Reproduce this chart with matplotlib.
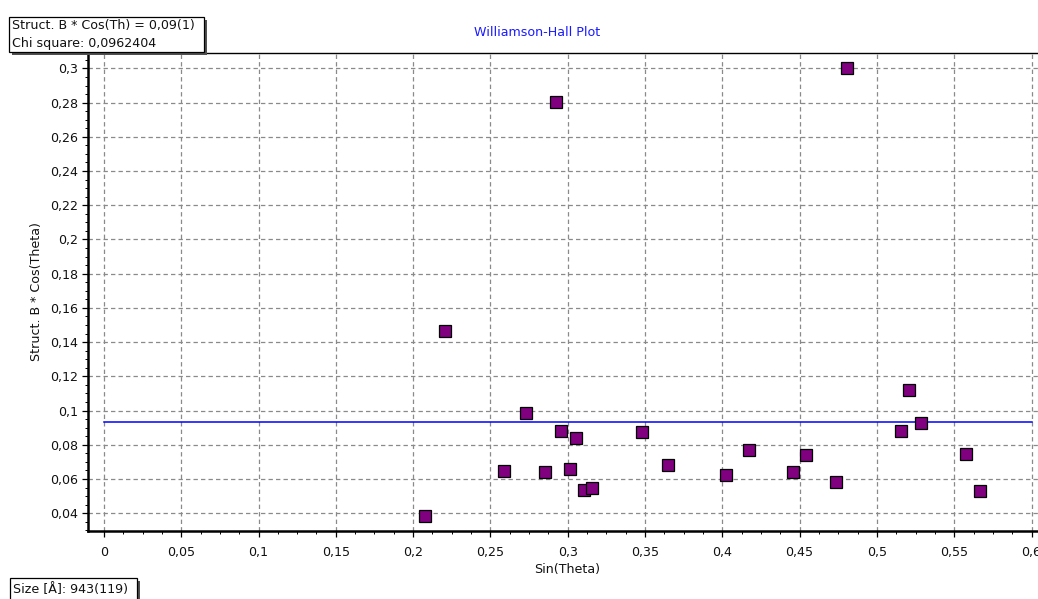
import matplotlib
matplotlib.use("Agg")
import matplotlib.pyplot as plt
from matplotlib.ticker import MultipleLocator, FuncFormatter
from matplotlib.patches import Rectangle

# Williamson-Hall data: sin(theta) vs structural breadth * cos(theta)
sin_theta = [0.2080, 0.2203, 0.2586, 0.2728, 0.2852, 0.2924, 0.2956, 0.3018,
             0.3053, 0.3104, 0.3157, 0.3482, 0.3648, 0.4022, 0.4172, 0.4460,
             0.4540, 0.4735, 0.4808, 0.5153, 0.5206, 0.5286, 0.5575, 0.5664]
b_cos_theta = [0.0382, 0.1463, 0.0649, 0.0984, 0.0641, 0.2804, 0.0880, 0.0657,
               0.0841, 0.0535, 0.0545, 0.0873, 0.0680, 0.0625, 0.0769, 0.0641,
               0.0739, 0.0584, 0.3000, 0.0880, 0.1120, 0.0927, 0.0745, 0.0527]

# constant fit level
fit_level = 0.0935
fit_range = [0.0, 0.6]

x_major = 0.05
y_major = 0.02

title_text = "Williamson-Hall Plot"
x_label = "Sin(Theta)"
y_label = "Struct. B * Cos(Theta)"
fit_lines = ["Struct. B * Cos(Th) = 0,09(1)", "Chi square: 0,0962404"]
size_text = "Size [\u00c5]: 943(119)"

W, H = 1038, 599
plt.rcParams['font.family'] = ['DejaVu Sans']
plt.rcParams['font.size'] = 9.1

fig = plt.figure(figsize=(W / 100, H / 100), dpi=100)
fig.patch.set_facecolor('white')


def fx(px):
    return px / W


def fy(py):
    return (H - py) / H


ax = fig.add_axes([fx(88), fy(531), fx(1038) - fx(88), fy(53) - fy(531)])
ax.set_xlim(-0.0103, 0.6042)
ax.set_ylim(0.0296, 0.309)

ax.grid(True, which='major', color='#8a8a8a', linestyle=(0, (3.5, 2.5)),
        linewidth=0.9, zorder=0)
ax.set_axisbelow(True)

ax.plot(fit_range, [fit_level, fit_level], color='#0000ff', linewidth=1.1,
        zorder=2)
ax.plot(sin_theta, b_cos_theta, linestyle='none', marker='s', markersize=8.0,
        markerfacecolor='#800080', markeredgecolor='black',
        markeredgewidth=0.9, zorder=3)

ax.xaxis.set_major_locator(MultipleLocator(x_major))
ax.xaxis.set_minor_locator(MultipleLocator(x_major / 4))
ax.yaxis.set_major_locator(MultipleLocator(y_major))
ax.yaxis.set_minor_locator(MultipleLocator(y_major / 4))


def comma_fmt(v, pos):
    s = '{:g}'.format(round(v, 4))
    return s.replace('.', ',')


ax.xaxis.set_major_formatter(FuncFormatter(comma_fmt))
ax.yaxis.set_major_formatter(FuncFormatter(comma_fmt))

ax.tick_params(which='major', direction='out', length=4, width=0.9,
               color='black', labelcolor='#111111', pad=7)
ax.tick_params(axis='y', which='major', pad=3)
ax.tick_params(which='minor', direction='out', length=2.0, width=0.7,
               color='black')

for side in ('left', 'bottom'):
    ax.spines[side].set_linewidth(1.8)
    ax.spines[side].set_color('black')
ax.spines['top'].set_linewidth(1.0)
ax.spines['top'].set_color('black')
ax.spines['right'].set_visible(False)

fig.text(fx(537), fy(33), title_text, color='#1a1aff', ha='center',
         va='center')
fig.text(fx(567), fy(570), x_label, color='#111111', ha='center',
         va='center')
fig.text(fx(37), fy(292), y_label, color='#111111', ha='center',
         va='center', rotation=90)


def shadow_box(x0, y0, x1, y1):
    fig.add_artist(Rectangle((fx(x0 + 3), fy(y1 + 3)), fx(x1 - x0),
                             fy(y0) - fy(y1), transform=fig.transFigure,
                             facecolor='#505050', edgecolor='none',
                             zorder=10))
    fig.add_artist(Rectangle((fx(x0), fy(y1)), fx(x1 - x0),
                             fy(y0) - fy(y1), transform=fig.transFigure,
                             facecolor='white', edgecolor='black',
                             linewidth=0.9, zorder=11))


shadow_box(9, 17, 204, 52)
fig.text(fx(12), fy(26), fit_lines[0], ha='left', va='center',
         color='#111111', zorder=12)
fig.text(fx(12), fy(43), fit_lines[1], ha='left', va='center',
         color='#111111', zorder=12)

shadow_box(10, 578, 137, 604)
fig.text(fx(13), fy(590), size_text, ha='left', va='center',
         color='#111111', zorder=12)

fig.savefig('out.png', dpi=100, facecolor='white')
